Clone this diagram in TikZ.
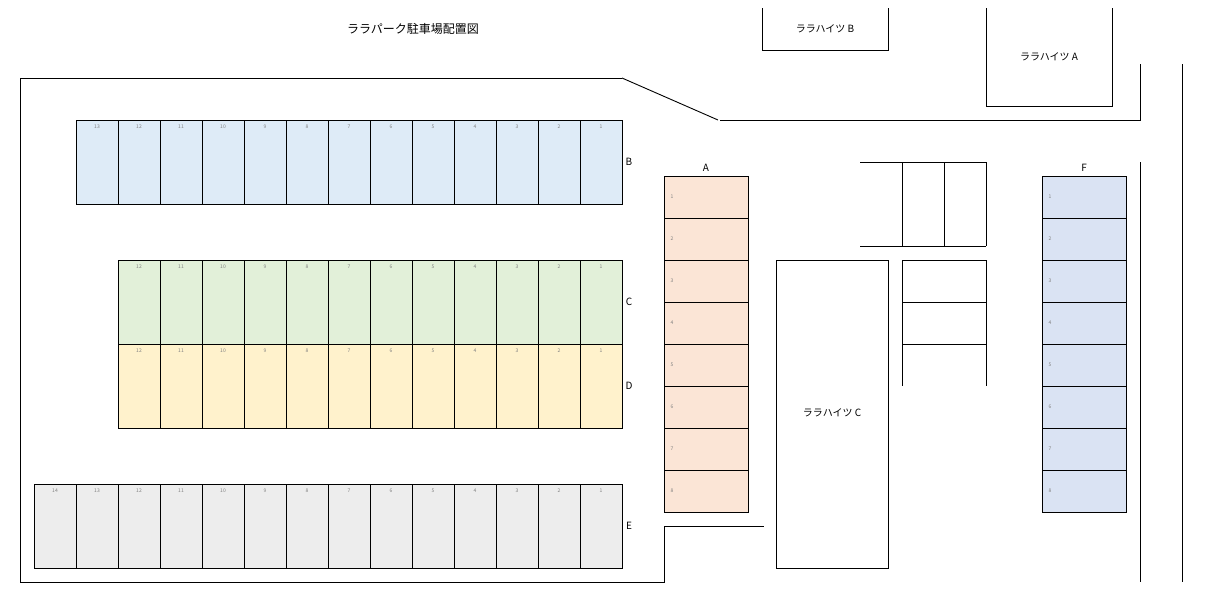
\documentclass[tikz,border=0pt]{standalone}
\usepackage{fontspec}
\setmainfont{Noto Sans CJK JP}
\definecolor{bB}{HTML}{DEEBF7}
\definecolor{bC}{HTML}{E2F0D9}
\definecolor{bD}{HTML}{FFF2CC}
\definecolor{bE}{HTML}{EDEDED}
\definecolor{bA}{HTML}{FBE5D6}
\definecolor{bF}{HTML}{DAE3F3}
\begin{document}
\begin{tikzpicture}[x=1pt,y=-1pt,line width=0.9pt,
  cell/.style={draw=black},
  num/.style={font=\fontsize{5}{6}\selectfont,text=gray},
  lbl/.style={font=\fontsize{10}{12}\selectfont}]
\useasboundingbox (0,0) rectangle (1207,613);
\node[font=\fontsize{12}{14}\selectfont] (title) at (413,29) {ララパーク駐車場配置図};
% outline
\draw (622,78) -- (20,78) -- (20,582) -- (664,582) -- (664,526) -- (764,526);
\draw (622,78) -- (718,120);
\draw (720,120) -- (1140,120) -- (1140,64);
\draw (1182,64) -- (1182,582);
\draw (1140,162) -- (1140,582);
% buildings
\draw (762,8) -- (762,50) -- (888,50) -- (888,8);
\node[lbl] (hb) at (825,29) {ララハイツ B};
\draw (986,8) -- (986,106) -- (1112,106) -- (1112,8);
\node[lbl] (ha) at (1049,57) {ララハイツ A};
\draw (776,260) rectangle (888,568);
\node[lbl] (hc) at (832,413) {ララハイツ C};
% middle structure
\draw (860,162) -- (986,162) (860,246) -- (986,246);
\draw (902,162) -- (902,246) (944,162) -- (944,246) (986,162) -- (986,246);
\draw (902,260) -- (986,260) (902,302) -- (986,302) (902,344) -- (986,344);
\draw (902,260) -- (902,386) (986,260) -- (986,386);
% horizontal rows
\foreach \n/\x/\y/\c in {13/76/120/B,12/118/260/C,12/118/344/D,14/34/484/E}{
  \foreach \i in {1,...,\n}{
    \pgfmathtruncatemacro\k{\n-\i+1}
    \pgfmathsetmacro\xx{\x+42*(\i-1)}
    \draw[cell,fill=b\c] (\xx,\y) rectangle ++(42,84);
    \node[num] (n\c\k) at (\xx+21,\y+7) {\k};
  }
  \node[lbl] (r\c) at (629,\y+42) {\c};
}
% vertical columns
\foreach \x/\c in {664/A,1042/F}{
  \foreach \i in {1,...,8}{
    \pgfmathsetmacro\yy{176+42*(\i-1)}
    \draw[cell,fill=b\c] (\x,\yy) rectangle ++(84,42);
    \node[num] (n\c\i) at (\x+8,\yy+21) {\i};
  }
  \node[lbl] (r\c) at (\x+42,168) {\c};
}
\end{tikzpicture}
\end{document}
